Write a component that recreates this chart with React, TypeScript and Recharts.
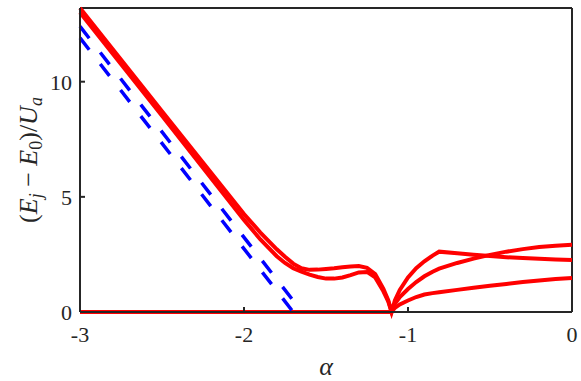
import { LineChart, Line, XAxis, YAxis, ReferenceLine } from 'recharts';

// alpha grid shared by the three red levels
const alpha = [
  -3, -2.5, -2.0, -1.9, -1.8, -1.75, -1.7, -1.65, -1.6, -1.55, -1.5, -1.45, -1.4, -1.35, -1.3,
  -1.25, -1.2, -1.15, -1.12, -1.1, -1.08, -1.05, -1.0, -0.95, -0.9, -0.85, -0.81, -0.7, -0.6,
  -0.5, -0.4, -0.3, -0.2, -0.1, 0,
];
const level1 = [
  13.2, 8.72, 4.25, 3.45, 2.72, 2.4, 2.1, 1.9, 1.83, 1.84, 1.87, 1.9, 1.94, 1.98, 2.0,
  1.92, 1.65, 1.0, 0.5, 0, 0.5, 0.96, 1.5, 1.9, 2.2, 2.45, 2.62, 2.55, 2.49,
  2.43, 2.38, 2.34, 2.31, 2.28, 2.26,
];
const level2 = [
  13.0, 8.52, 4.0, 3.15, 2.42, 2.13, 1.9, 1.75, 1.62, 1.52, 1.45, 1.45, 1.5, 1.6, 1.72,
  1.74, 1.5, 0.9, 0.45, 0, 0.35, 0.65, 1.0, 1.3, 1.55, 1.75, 1.88, 2.13, 2.32,
  2.48, 2.62, 2.73, 2.82, 2.88, 2.92,
];
const level3 = [
  0, 0, 0, 0, 0, 0, 0, 0, 0, 0, 0, 0, 0, 0, 0,
  0, 0, 0, 0, 0, 0.18, 0.33, 0.5, 0.65, 0.76, 0.82, 0.86, 0.96, 1.05,
  1.14, 1.22, 1.3, 1.37, 1.43, 1.48,
];

// blue dashed lines
const dashAlphaA = [-3, -1.646];
const dashA = [12.4, 0];
const dashAlphaB = [-3, -1.7];
const dashB = [11.9, 0];

const xTicks = [-3, -2, -1, 0];
const yTicks = [0, 5, 10];

const toPoints = (xs: number[], ys: number[]) => xs.map((a, i) => ({ alpha: a, value: ys[i] }));

const axisColor = '#262626';
const serif = 'Liberation Serif, DejaVu Serif, serif';

function YLabel(props: any) {
  const vb = props.viewBox || { x: 0, y: 8, width: 80, height: 304 };
  const x = vb.x + 37;
  const y = vb.y + vb.height / 2;
  return (
    <text
      x={x}
      y={y}
      transform={`rotate(-90 ${x} ${y})`}
      textAnchor="middle"
      fontSize={26}
      fill={axisColor}
      style={{ fontFamily: serif }}
    >
      <tspan>(</tspan>
      <tspan fontStyle="italic">E</tspan>
      <tspan fontStyle="italic" fontSize={18} dy={5}>j</tspan>
      <tspan dy={-5}> − </tspan>
      <tspan fontStyle="italic">E</tspan>
      <tspan fontSize={18} dy={5}>0</tspan>
      <tspan dy={-5}>)/</tspan>
      <tspan fontStyle="italic">U</tspan>
      <tspan fontStyle="italic" fontSize={18} dy={5}>a</tspan>
    </text>
  );
}

function XLabel(props: any) {
  const vb = props.viewBox || { x: 80, y: 312, width: 492, height: 69 };
  return (
    <text
      x={vb.x + vb.width / 2}
      y={vb.y + 63}
      textAnchor="middle"
      fontStyle="italic"
      fontSize={26}
      fill={axisColor}
      style={{ fontFamily: serif }}
    >
      α
    </text>
  );
}

export default function App() {
  const tickStyle = { fontSize: 22, fill: axisColor, style: { fontFamily: serif } };
  return (
    <div style={{ position: 'absolute', left: 0, top: 0 }}>
      <LineChart width={581} height={381} margin={{ top: 8, right: 9, bottom: 0, left: 0 }}>
        <XAxis
          dataKey="alpha"
          type="number"
          domain={[-3, 0]}
          ticks={xTicks}
          height={69}
          tickSize={-5}
          tickMargin={19}
          tick={tickStyle}
          stroke={axisColor}
          strokeWidth={2}
          label={<XLabel />}
        />
        <YAxis
          type="number"
          domain={[0, 13.2]}
          ticks={yTicks}
          width={80}
          tickSize={-5}
          tickMargin={13}
          tick={tickStyle}
          stroke={axisColor}
          strokeWidth={2}
          label={<YLabel />}
        />
        <ReferenceLine y={13.2} stroke={axisColor} strokeWidth={2} />
        <ReferenceLine x={0} stroke={axisColor} strokeWidth={2} />
        <Line data={toPoints(alpha, level3)} dataKey="value" type="linear" stroke="#ff0000" strokeWidth={4} dot={false} isAnimationActive={false} />
        <Line data={toPoints(alpha, level2)} dataKey="value" type="linear" stroke="#ff0000" strokeWidth={4} dot={false} isAnimationActive={false} />
        <Line data={toPoints(alpha, level1)} dataKey="value" type="linear" stroke="#ff0000" strokeWidth={4} dot={false} isAnimationActive={false} />
        <Line data={toPoints(dashAlphaA, dashA)} dataKey="value" type="linear" stroke="#0000ff" strokeWidth={3.5} strokeDasharray="15 18" dot={false} isAnimationActive={false} />
        <Line data={toPoints(dashAlphaB, dashB)} dataKey="value" type="linear" stroke="#0000ff" strokeWidth={3.5} strokeDasharray="15 18" dot={false} isAnimationActive={false} />
      </LineChart>
    </div>
  );
}
